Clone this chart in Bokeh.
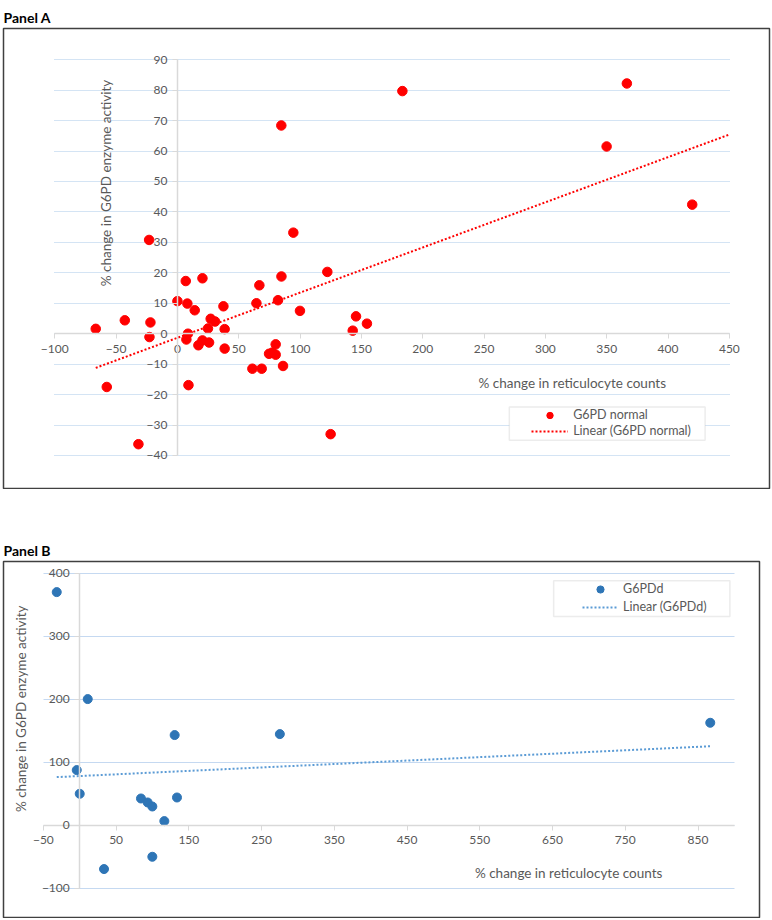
import math

import numpy as np
from bokeh.embed import file_html
from bokeh.layouts import column
from bokeh.models import (BoxAnnotation, ColumnDataSource, FixedTicker, Grid, Label,
                          Legend, LegendItem, LinearAxis, Range1d, Spacer)
from bokeh.plotting import figure
from bokeh.resources import INLINE

# Panel A - G6PD normal: % change in reticulocyte counts vs % change in G6PD activity
normal_retic = [-66.6, -57.6, -42.9, -31.8, -23.1, -22.8, -22.0, 0.0, 6.8, 7.3, 8.1, 8.6,
                9.0, 14.1, 17.1, 20.4, 20.4, 24.9, 25.8, 27.1, 30.7, 37.5, 38.5, 38.5,
                61.1, 64.4, 66.8, 68.7, 74.7, 77.4, 80.1, 80.1, 82.0, 84.8, 84.7, 86.1,
                94.5, 99.9, 122.2, 124.9, 142.9, 145.6, 154.5, 183.4, 349.9, 366.4, 419.7]
normal_g6pd = [1.6, -17.5, 4.4, -36.3, 30.8, -1.1, 3.7, 10.7, 17.3, -1.9, 9.9, 0.0,
               -16.9, 7.7, -3.8, 18.2, -2.2, 1.7, -2.9, 4.9, 4.0, 9.0, 1.5, -4.9,
               -11.5, 10.0, 15.9, -11.5, -6.6, -6.2, -3.5, -6.9, 11.0, 18.8, 68.4, -10.6,
               33.2, 7.5, 20.3, -33.0, 1.0, 5.7, 3.3, 79.7, 61.5, 82.2, 42.4]

# Panel B - G6PD deficient
deficient_retic = [-31.6, -4.1, 0.0, 11.0, 33.4, 84.2, 93.4, 99.8, 99.8, 116.3, 130.5,
                   133.7, 275.1, 866.8]
deficient_g6pd = [369.8, 87.3, 49.7, 200.0, -69.8, 42.2, 35.9, 29.5, -50.3, 6.3, 142.9,
                  43.8, 144.4, 162.4]

a_x_ticks = list(range(-100, 451, 50))
a_y_ticks = list(range(-40, 91, 10))
b_x_ticks = list(range(-50, 851, 100))
b_y_ticks = list(range(-100, 401, 100))

FONT = "Lato"
GREY = "#595959"
AXIS = "#D9D9D9"
X_TITLE = "% change in reticulocyte counts"
Y_TITLE = "% change in G6PD enzyme activity"

BORDER = dict(left=3, right=2, top=28, bottom=1)


def make_panel(title, width, height, xr, yr):
    p = figure(width=width, height=height, title=title,
               x_range=Range1d(*xr), y_range=Range1d(*yr),
               x_axis_type=None, y_axis_type=None,
               toolbar_location=None, output_backend="svg",
               min_border_left=BORDER["left"], min_border_right=BORDER["right"],
               min_border_bottom=BORDER["bottom"], min_border_top=BORDER["top"])
    p.title.text_font = FONT
    p.title.text_font_size = "14px"
    p.title.text_font_style = "bold"
    p.title.text_color = "black"
    p.title.vertical_align = "top"
    p.title.standoff = 2
    p.title.offset = 0
    p.outline_line_color = "#404040"
    p.outline_line_width = 1.5
    p.background_fill_color = "white"
    p.border_fill_color = "white"
    return p


def add_axes(p, xticks, yticks, xbounds, ybounds, **grid_style):
    xaxis = LinearAxis(fixed_location=0, bounds=xbounds, ticker=FixedTicker(ticks=xticks))
    yaxis = LinearAxis(fixed_location=0, bounds=ybounds, ticker=FixedTicker(ticks=yticks))
    for ax in (xaxis, yaxis):
        ax.axis_line_color = AXIS
        ax.axis_line_width = 1.5
        ax.major_tick_line_color = AXIS
        ax.major_tick_out = 5
        ax.major_tick_in = 0
        ax.minor_tick_out = 0
        ax.minor_tick_in = 0
        ax.major_label_text_font = FONT
        ax.major_label_text_font_size = "12px"
        ax.major_label_text_color = GREY
    xaxis.major_label_standoff = 6
    yaxis.major_label_standoff = 5
    p.add_layout(Grid(dimension=1, ticker=yaxis.ticker, cross_bounds=xbounds, **grid_style))
    p.add_layout(xaxis, "below")
    p.add_layout(yaxis, "left")


def axis_titles(p, xpos, ypos):
    p.add_layout(Label(x=xpos[0], y=xpos[1], text=X_TITLE, text_font=FONT,
                       text_font_size="13.5px", text_color=GREY,
                       text_align="center", text_baseline="middle"))
    p.add_layout(Label(x=ypos[0], y=ypos[1], text=Y_TITLE, text_font=FONT,
                       text_font_size="13.5px", text_color=GREY, angle=math.pi / 2,
                       text_align="center", text_baseline="middle"))


def add_legend(p, items, box, glyph_left, bottom, row_h, glyph_w):
    # white box with grey border, legend entries drawn on top of it
    p.add_layout(BoxAnnotation(left=box[0], right=box[1], top=box[2], bottom=box[3],
                               fill_color="white", fill_alpha=1,
                               line_color="#BFBFBF", line_width=1.5))
    xr, yr = p.x_range, p.y_range
    fw = p.width - BORDER["left"] - BORDER["right"]
    fh = p.height - BORDER["top"] - BORDER["bottom"]
    sx = (glyph_left - xr.start) / (xr.end - xr.start) * fw
    sy = (bottom - yr.start) / (yr.end - yr.start) * fh
    legend = Legend(items=[LegendItem(label=t, renderers=[r]) for t, r in items],
                    location=(sx, sy), border_line_color=None, background_fill_alpha=0,
                    padding=0, spacing=0, margin=0, glyph_width=glyph_w,
                    glyph_height=row_h, label_height=row_h, label_standoff=5,
                    label_text_font=FONT, label_text_font_size="12.5px",
                    label_text_color=GREY, label_text_baseline="middle")
    p.add_layout(legend)


# ---------------- Panel A ----------------
pa = make_panel("Panel A", 771, 489, (-141.8, 482.7), (-50.85, 100.26))
add_axes(pa, a_x_ticks, a_y_ticks, (-100, 450), (-40, 90),
         grid_line_color="#A9C8E8", grid_line_width=1.2, grid_line_dash="1 1")

src_a = ColumnDataSource(data={"x": normal_retic, "y": normal_g6pd})
sc_a = pa.scatter("x", "y", source=src_a, size=9.5, color="#FF0000")
slope_a, icpt_a = np.polyfit(normal_retic, normal_g6pd, 1)
fit_xa = [min(normal_retic), a_x_ticks[-1]]
ln_a = pa.line(fit_xa, [slope_a * v + icpt_a for v in fit_xa],
               line_color="#FF0000", line_width=2, line_dash="2 2")

axis_titles(pa, (321.9, -16.1), (-58.4, 49.5))
add_legend(pa, [("G6PD normal", sc_a), ("Linear (G6PD normal)", ln_a)],
           box=(270.6, 430.2, -24.1, -35.0), glyph_left=288.8, bottom=-34.68,
           row_h=16, glyph_w=37)

# ---------------- Panel B ----------------
pb = make_panel("Panel B", 761, 385, (-104.8, 934.5), (-146.7, 418.4))
add_axes(pb, b_x_ticks, b_y_ticks, (-50, 900), (-100, 400),
         grid_line_color="#C5D9F1", grid_line_width=1.2)

src_b = ColumnDataSource(data={"x": deficient_retic, "y": deficient_g6pd})
sc_b = pb.scatter("x", "y", source=src_b, size=9, color="#2E75B6")
slope_b, icpt_b = np.polyfit(deficient_retic, deficient_g6pd, 1)
fit_xb = [min(deficient_retic), max(deficient_retic)]
ln_b = pb.line(fit_xb, [slope_b * v + icpt_b for v in fit_xb],
               line_color="#5B9BD5", line_width=2, line_dash="2 2")

axis_titles(pb, (672.1, -76.2), (-81.0, 184.6))
add_legend(pb, [("G6PDd", sc_b), ("Linear (G6PDd)", ln_b)],
           box=(651.5, 893.8, 387.8, 331.1), glyph_left=691.3, bottom=331.1,
           row_h=18, glyph_w=36)

layout = column(pa, Spacer(width=10, height=44), pb)

open("out.html", "w").write(file_html(layout, INLINE))
